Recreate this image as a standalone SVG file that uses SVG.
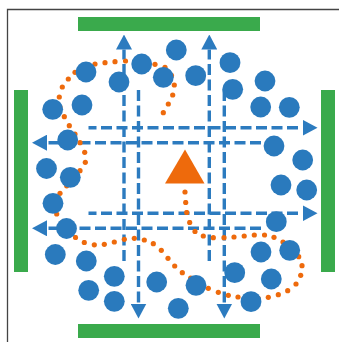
<svg xmlns="http://www.w3.org/2000/svg" width="339" height="342" viewBox="0 0 339 342">
<defs>
<style>
.frame{stroke:#444;stroke-width:1.3;fill:none}
.bar{fill:#3aaa4c}
.dash{stroke:#2c7bbf;stroke-width:3.4;fill:none;stroke-dasharray:11 4.5;marker-end:url(#ah)}
.orange{fill:none;stroke:none;marker-start:url(#dot);marker-mid:url(#dot);marker-end:url(#dot)}
.c{fill:#2a7abd}
.tri{fill:#ee6a0c}
</style>
<marker id="ah" markerUnits="userSpaceOnUse" viewBox="0 0 15 16" refX="0" refY="8" markerWidth="15" markerHeight="16" orient="auto">
<path d="M0,0 L15,8 L0,16 Z" fill="#2c7bbf"/>
</marker>
<marker id="dot" markerUnits="userSpaceOnUse" viewBox="-3 -3 6 6" refX="0" refY="0" markerWidth="6" markerHeight="6" orient="0">
<circle cx="0" cy="0" r="2.6" fill="#ee6a0c"/>
</marker>
</defs>
<rect width="339" height="342" fill="#fff"/>
<path class="frame" d="M7.5,342 V9.5 H339"/>
<g id="bar-top"><rect class="bar" x="78" y="17" width="182" height="14"/></g>
<g id="bar-bottom"><rect class="bar" x="78" y="324" width="182" height="14"/></g>
<g id="bar-left"><rect class="bar" x="14" y="90" width="14" height="182"/></g>
<g id="bar-right"><rect class="bar" x="321" y="90" width="14" height="182"/></g>
<g id="connectors">
<path class="dash" d="M124,261 V49.5"/>
<path class="dash" d="M209.3,261 V49.5"/>
<path class="dash" d="M138.5,90 V303.5"/>
<path class="dash" d="M224.3,90 V303.5"/>
<path class="dash" style="stroke-dashoffset:3" d="M88.5,127.7 H302.5"/>
<path class="dash" style="stroke-dashoffset:3" d="M88.5,213.3 H302.5"/>
<path class="dash" d="M261,142.7 H47"/>
<path class="dash" d="M261,228.3 H47"/>
<path class="orange" d="M185,192 L185.7,202.5 L186.7,212.5 L189.7,222.5 L195,231.5 L203.3,236 L213.3,237.7 L224,237.7 L234,237 L244.2,236 L254.3,235 L264.5,235 L274,237.3 L283,242 L291.5,249 L298.7,256.7 L302,265.7 L300.7,275.3 L296,284 L287.7,290.7 L278.3,294.7 L268.3,297.3 L258.2,298.3 L248,298 L238,297 L228.3,295.3 L218.3,292.3 L208.3,288.3 L199.5,283.5 L190.7,278 L182.3,272.7 L174.7,266 L168,258.3 L161.3,250.3 L153.3,243.7 L144.3,240 L134.3,238.3 L124.3,239.3 L114.3,242 L104.3,244.3 L94.3,244.8 L84.3,242.5 L75.5,237.5 L69.1,229.9 L62.9,222.1 L56.7,214 L58,203.7 L60,193.3 L66.7,185.8 L73.3,178.2 L80,170.7 L85.3,162.3 L84.7,152.3 L80,142.7 L75,134 L69.3,125.7 L64.3,116.7 L60,107 L59.3,97 L62.3,87 L68.3,79 L75,72.3 L85,67 L95,64 L105,62.7 L115,61.7 L125.5,61 L135.5,61.5 L145.5,62.5 L155,64.3 L165,67.3 L171.5,75.5 L174.3,85 L172.7,95 L168.3,104 L163.3,112.7"/>
</g>
<g id="triangle"><polygon class="tri" points="185,149.5 165,183.5 204.5,183.5"/></g>
<g id="c1"><circle class="c" cx="86" cy="72" r="10.4"/></g>
<g id="c2"><circle class="c" cx="119" cy="82" r="10.4"/></g>
<g id="c3"><circle class="c" cx="141.7" cy="64" r="10.4"/></g>
<g id="c4"><circle class="c" cx="163.3" cy="77.3" r="10.4"/></g>
<g id="c5"><circle class="c" cx="176.3" cy="50" r="10.4"/></g>
<g id="c6"><circle class="c" cx="195.7" cy="75.7" r="10.4"/></g>
<g id="c7"><circle class="c" cx="230" cy="62.7" r="10.4"/></g>
<g id="c8"><circle class="c" cx="232.7" cy="89.3" r="10.4"/></g>
<g id="c9"><circle class="c" cx="265" cy="81" r="10.4"/></g>
<g id="c10"><circle class="c" cx="260.7" cy="107" r="10.4"/></g>
<g id="c11"><circle class="c" cx="289.3" cy="107.3" r="10.4"/></g>
<g id="c12"><circle class="c" cx="274" cy="146" r="10.4"/></g>
<g id="c13"><circle class="c" cx="302.7" cy="160" r="10.4"/></g>
<g id="c14"><circle class="c" cx="281" cy="185" r="10.4"/></g>
<g id="c15"><circle class="c" cx="306.7" cy="190" r="10.4"/></g>
<g id="c16"><circle class="c" cx="276.3" cy="221.7" r="10.4"/></g>
<g id="c17"><circle class="c" cx="261" cy="252" r="10.4"/></g>
<g id="c18"><circle class="c" cx="289.7" cy="250.3" r="10.4"/></g>
<g id="c19"><circle class="c" cx="234.7" cy="272.7" r="10.4"/></g>
<g id="c20"><circle class="c" cx="271.3" cy="279" r="10.4"/></g>
<g id="c21"><circle class="c" cx="251" cy="301.7" r="10.4"/></g>
<g id="c22"><circle class="c" cx="196" cy="285.3" r="10.4"/></g>
<g id="c23"><circle class="c" cx="178.3" cy="308.3" r="10.4"/></g>
<g id="c24"><circle class="c" cx="156.7" cy="282" r="10.4"/></g>
<g id="c25"><circle class="c" cx="114.3" cy="276.3" r="10.4"/></g>
<g id="c26"><circle class="c" cx="88.7" cy="290.3" r="10.4"/></g>
<g id="c27"><circle class="c" cx="114.3" cy="301.3" r="10.4"/></g>
<g id="c28"><circle class="c" cx="86.3" cy="261" r="10.4"/></g>
<g id="c29"><circle class="c" cx="55.3" cy="254.5" r="10.4"/></g>
<g id="c30"><circle class="c" cx="66.5" cy="228.5" r="10.4"/></g>
<g id="c31"><circle class="c" cx="53" cy="203.3" r="10.4"/></g>
<g id="c32"><circle class="c" cx="70.3" cy="177.3" r="10.4"/></g>
<g id="c33"><circle class="c" cx="46.5" cy="168.5" r="10.4"/></g>
<g id="c34"><circle class="c" cx="67.7" cy="140" r="10.4"/></g>
<g id="c35"><circle class="c" cx="52.7" cy="109.3" r="10.4"/></g>
<g id="c36"><circle class="c" cx="82" cy="105" r="10.4"/></g>
</svg>
